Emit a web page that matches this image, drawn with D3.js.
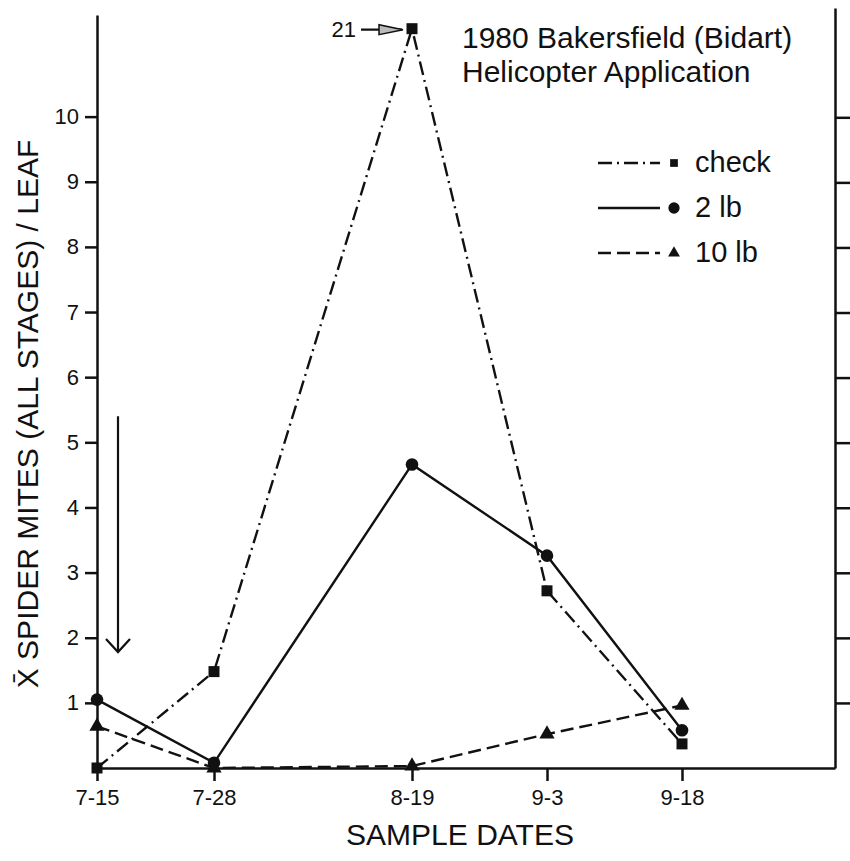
<!DOCTYPE html>
<html>
<head>
<meta charset="utf-8">
<script src="https://cdn.jsdelivr.net/npm/d3@7"></script>
<style>
  body { margin: 0; background: #fff; }
  svg { display: block; font-family: "Liberation Sans", Arial, sans-serif; }
  .axis path, .axis line { stroke: #111; stroke-width: 2.5; }
  .axis text { fill: #111; }
  .series { fill: none; stroke: #111; stroke-width: 2.4; }
</style>
</head>
<body>
<svg id="graph" width="850" height="861"></svg>
<script>
// sample dates (1980) and their printed labels
var dates = ["1980-07-15", "1980-07-28", "1980-08-19", "1980-09-03", "1980-09-18"];
var dateLabels = ["7-15", "7-28", "8-19", "9-3", "9-18"];

// mean spider mites per leaf
var checkVals = [0, 1.48, 21, 2.72, 0.37];
var lb2Vals = [1.05, 0.08, 4.66, 3.26, 0.58];
var lb10Vals = [0.64, 0, 0.03, 0.52, 0.96];

var yTicks = [1, 2, 3, 4, 5, 6, 7, 8, 9, 10];
var yTop = 11.56;        // top of the left axis
var offScaleAt = 11.35;  // where an off-scale value is drawn

// application date arrow (annotation)
var appArrow = {date: "1980-07-17 08:00", from: 5.4, to: 1.78};

var graph = (function () {
    function create() {
        var svg = d3.select("svg#graph");
        var parse = d3.timeParse("%Y-%m-%d");
        var parseT = d3.timeParse("%Y-%m-%d %H:%M");
        var xDates = dates.map(parse);

        var x = d3.scaleTime()
            .domain([parse("1980-07-15"), parse("1980-10-05")])
            .range([97, 835]);
        var y = d3.scaleLinear().domain([0, yTop]).range([768, 15]);
        var yRight = d3.scaleLinear().domain([0, 11.68]).range([768, 8]);

        function yv(v) { return y(v > yTop ? offScaleAt : v); }

        var series = [
            {name: "check", vals: checkVals, dash: "14,5,2,5", symbol: d3.symbolSquare, size: 121, legSize: 60},
            {name: "2 lb", vals: lb2Vals, dash: null, symbol: d3.symbolCircle, size: 125, legSize: 100},
            {name: "10 lb", vals: lb10Vals, dash: "13,6", symbol: d3.symbolTriangle, size: 100, legSize: 60}
        ];

        // axes
        var xAxis = d3.axisBottom(x)
            .tickValues(xDates)
            .tickFormat(function (d, i) { return dateLabels[i]; })
            .tickSize(13).tickPadding(8).tickSizeOuter(0);
        var yAxis = d3.axisLeft(y)
            .tickValues(yTicks).tickSize(12).tickPadding(6).tickSizeOuter(0);
        var yAxisR = d3.axisRight(yRight)
            .tickValues(yTicks).tickSize(16).tickFormat("").tickSizeOuter(0);

        svg.append("g").attr("class", "x axis")
            .attr("transform", "translate(0,768)")
            .call(xAxis)
            .selectAll("text").style("font-size", "22px");

        svg.append("g").attr("class", "y axis")
            .attr("transform", "translate(97,0)")
            .call(yAxis)
            .selectAll("text").style("font-size", "22px");

        svg.append("g").attr("class", "y axis right")
            .attr("transform", "translate(835,0)")
            .call(yAxisR);

        svg.selectAll(".axis").attr("font-family", null).attr("font-size", null);

        // lines and markers
        series.forEach(function (s) {
            var pts = s.vals.map(function (v, i) { return {d: xDates[i], v: v}; });
            var line = d3.line()
                .x(function (d) { return x(d.d); })
                .y(function (d) { return yv(d.v); });
            svg.append("path")
                .attr("class", "series")
                .attr("stroke-dasharray", s.dash)
                .attr("d", line(pts));
            svg.selectAll(null).data(pts).enter().append("path")
                .attr("d", d3.symbol().type(s.symbol).size(s.size))
                .attr("transform", function (d) {
                    return "translate(" + x(d.d) + "," + yv(d.v) + ")";
                })
                .attr("fill", "#111");
        });

        // off-scale label for the check peak
        var peakI = checkVals.findIndex(function (v) { return v > yTop; });
        var px = x(xDates[peakI]), py = yv(checkVals[peakI]);
        svg.append("line")
            .attr("x1", px - 51).attr("x2", px - 10)
            .attr("y1", py + 1).attr("y2", py + 1)
            .attr("stroke", "#111").attr("stroke-width", 2.2);
        svg.append("path")
            .attr("d", "M" + (px - 9) + "," + (py + 1) + "L" + (px - 33) + "," + (py - 4) +
                "L" + (px - 33) + "," + (py + 6) + "Z")
            .attr("fill", "#bbb").attr("stroke", "#111").attr("stroke-width", 1.5);
        svg.append("text")
            .attr("x", px - 56).attr("y", py + 8)
            .attr("text-anchor", "end")
            .style("font-size", "22px").attr("fill", "#111")
            .text(checkVals[peakI]);

        // application arrow
        var ax = x(parseT(appArrow.date)), ay1 = y(appArrow.from), ay2 = y(appArrow.to);
        svg.append("line")
            .attr("x1", ax).attr("x2", ax).attr("y1", ay1).attr("y2", ay2)
            .attr("stroke", "#111").attr("stroke-width", 2.2);
        svg.append("path")
            .attr("d", "M" + (ax - 12) + "," + (ay2 - 13) + "L" + ax + "," + ay2 + "L" + (ax + 12) + "," + (ay2 - 13))
            .attr("fill", "none").attr("stroke", "#111").attr("stroke-width", 2.2);

        // title
        var title = svg.append("text").style("font-size", "30px").attr("fill", "#111");
        title.append("tspan").attr("x", 462).attr("y", 48).text("1980 Bakersfield (Bidart)");
        title.append("tspan").attr("x", 462).attr("y", 82).text("Helicopter Application");

        // legend
        var leg = svg.append("g").attr("transform", "translate(598,163)");
        series.forEach(function (s, i) {
            var g = leg.append("g").attr("transform", "translate(0," + (i * 45) + ")");
            g.append("line").attr("x1", 0).attr("x2", 62).attr("y1", 0).attr("y2", 0)
                .attr("class", "series").attr("stroke-dasharray", s.dash);
            g.append("path")
                .attr("d", d3.symbol().type(s.symbol).size(s.legSize))
                .attr("transform", "translate(76,0)")
                .attr("fill", "#111");
            g.append("text").attr("x", 97).attr("y", 9)
                .style("font-size", "29px").attr("fill", "#111")
                .text(s.name);
        });

        // axis titles
        svg.append("text")
            .attr("transform", "translate(38,414) rotate(-90)")
            .attr("text-anchor", "middle")
            .style("font-size", "30px").attr("fill", "#111")
            .text("X\u0304 SPIDER MITES (ALL STAGES) / LEAF");

        svg.append("text")
            .attr("x", 460).attr("y", 845)
            .attr("text-anchor", "middle")
            .style("font-size", "30px").attr("fill", "#111")
            .text("SAMPLE DATES");
    }

    return {create: create};
})();

graph.create();
</script>
</body>
</html>
